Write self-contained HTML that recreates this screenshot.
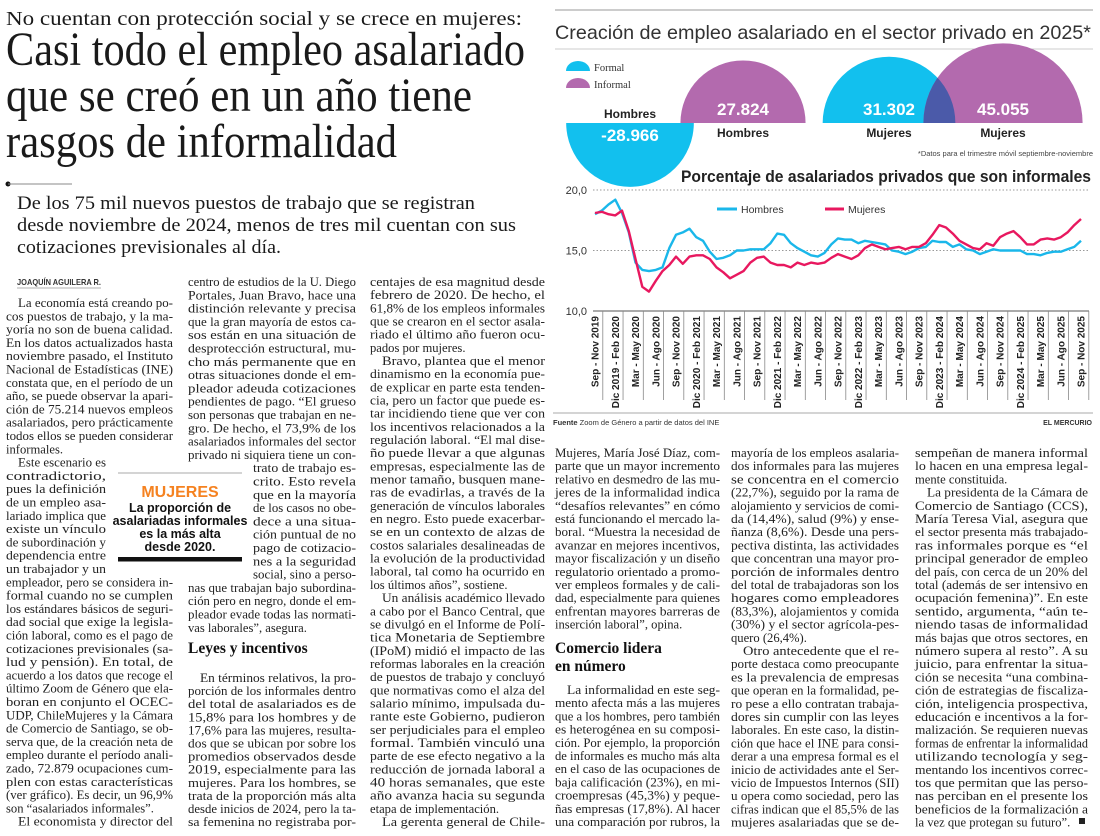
<!DOCTYPE html>
<html><head><meta charset="utf-8">
<style>
html,body{margin:0;padding:0;background:#fff;}
svg{display:block;}
.body{font-family:"Liberation Serif",serif;font-size:12.6px;fill:#222;}
.sans{font-family:"Liberation Sans Narrow","Liberation Sans",sans-serif;}
</style></head>
<body>
<svg id="page" width="1100" height="836" viewBox="0 0 1100 836" xmlns="http://www.w3.org/2000/svg">
<defs>
<clipPath id="clipMF"><ellipse cx="889" cy="123" rx="66" ry="66"/><rect x="0" y="0" width="1" height="1"/></clipPath>
</defs>
<g font-family="Liberation Serif, serif" fill="#1a1a1a">
<text x="6" y="25" font-size="20" textLength="516" lengthAdjust="spacingAndGlyphs">No cuentan con protección social y se crece en mujeres:</text>
<text x="6" y="65" font-size="48" textLength="519" lengthAdjust="spacingAndGlyphs">Casi todo el empleo asalariado</text>
<text x="6" y="111" font-size="48" textLength="466" lengthAdjust="spacingAndGlyphs">que se creó en un año tiene</text>
<text x="6" y="157" font-size="48" textLength="391" lengthAdjust="spacingAndGlyphs">rasgos de informalidad</text>
<circle cx="8" cy="184" r="2.5" fill="#111"/>
<line x1="8" y1="184" x2="72" y2="184" stroke="#888" stroke-width="1"/>
<text x="17" y="209" font-size="18.5" textLength="458" lengthAdjust="spacingAndGlyphs">De los 75 mil nuevos puestos de trabajo que se registran</text>
<text x="17" y="231" font-size="18.5" textLength="499" lengthAdjust="spacingAndGlyphs">desde noviembre de 2024, menos de tres mil cuentan con sus</text>
<text x="17" y="253" font-size="18.5" textLength="264" lengthAdjust="spacingAndGlyphs">cotizaciones previsionales al día.</text>
<text class="sans" x="17" y="285" font-size="8.5" font-weight="bold" fill="#333" textLength="84" lengthAdjust="spacingAndGlyphs">JOAQUÍN AGUILERA R.</text>
<line x1="17" y1="288" x2="101" y2="288" stroke="#999" stroke-width="0.8"/>
</g>
<g id="bodytext" class="body"></g>
<g>
<line x1="118" y1="473" x2="242" y2="473" stroke="#aaa" stroke-width="1"/>
<text class="sans" x="180" y="497" font-size="16" font-weight="bold" fill="#f58220" text-anchor="middle">MUJERES</text>
<g class="sans" font-size="12.5" font-weight="bold" fill="#111" text-anchor="middle">
<text x="180" y="512">La proporción de</text>
<text x="180" y="525">asalariadas informales</text>
<text x="180" y="538">es la más alta</text>
<text x="180" y="551">desde 2020.</text>
</g>
<rect x="118" y="557" width="124" height="4.5" fill="#111"/>
</g>
<g font-family="Liberation Serif, serif" font-weight="bold" font-size="15.5" fill="#111">
<text x="188" y="653">Leyes y incentivos</text>
<text x="555" y="653">Comercio lidera</text>
<text x="555" y="671">en número</text>
</g>
<rect x="1079" y="818" width="6" height="6" fill="#222"/>

<g id="bubbles">
<line x1="555" y1="10" x2="1093" y2="10" stroke="#999" stroke-width="1"/>
<text x="555" y="39" font-family="Liberation Sans, sans-serif" font-size="19.5" fill="#333" textLength="536" lengthAdjust="spacingAndGlyphs">Creación de empleo asalariado en el sector privado en 2025*</text>
<line x1="555" y1="49" x2="1093" y2="49" stroke="#ccc" stroke-width="1"/>
<path d="M566 71 A12 10 0 0 1 590 71 Z" fill="#12c0ee"/>
<path d="M566 88 A12 10 0 0 1 590 88 Z" fill="#b36aae"/>
<text x="594" y="71" font-family="Liberation Serif, serif" font-size="10.5" fill="#333">Formal</text>
<text x="594" y="88" font-family="Liberation Serif, serif" font-size="10.5" fill="#333">Informal</text>
<text class="sans" x="1093" y="156" font-size="7.5" fill="#444" text-anchor="end">*Datos para el trimestre móvil septiembre-noviembre</text>
</g>

<g id="linechart">
<text class="sans" x="1091" y="182" font-size="17" font-weight="bold" fill="#222" text-anchor="end" textLength="410" lengthAdjust="spacingAndGlyphs">Porcentaje de asalariados privados que son informales</text>
<line x1="717" y1="209" x2="737" y2="209" stroke="#1ab7ea" stroke-width="3"/>
<text class="sans" x="741" y="213" font-size="10.5" fill="#333">Hombres</text>
<line x1="825" y1="209" x2="844" y2="209" stroke="#e8185f" stroke-width="3"/>
<text class="sans" x="848" y="213" font-size="10.5" fill="#333">Mujeres</text>
<line x1="553" y1="413" x2="1093" y2="413" stroke="#aaa" stroke-width="1"/>
<text class="sans" x="553" y="425" font-size="7.5" fill="#333"><tspan font-weight="bold">Fuente</tspan>  Zoom de Género a partir de datos del INE</text>
<text class="sans" x="1092" y="425" font-size="7" font-weight="bold" fill="#333" text-anchor="end">EL MERCURIO</text>
</g>
</svg>
<script>
var bubbleLabels = ['Hombres', 'Hombres', 'Mujeres', 'Mujeres'];
var bubbleTypes = ['Formal', 'Informal', 'Formal', 'Informal'];
var bubbleValues = [-28966, 27824, 31302, 45055];
var quarterLabels = ['Sep - Nov 2019','Dic 2019 - Feb 2020','Mar - May 2020','Jun - Ago 2020','Sep - Nov 2020','Dic 2020 - Feb 2021','Mar - May 2021','Jun - Ago 2021','Sep - Nov 2021','Dic 2021 - Feb 2022','Mar - May 2022','Jun - Ago 2022','Sep - Nov 2022','Dic 2022 - Feb 2023','Mar - May 2023','Jun - Ago 2023','Sep - Nov 2023','Dic 2023 - Feb 2024','Mar - May 2024','Jun - Ago 2024','Sep - Nov 2024','Dic 2024 - Feb 2025','Mar - May 2025','Jun - Ago 2025','Sep - Nov 2025'];
var yTicks = [10, 15, 20];
var yTickLabels = ['10,0', '15,0', '20,0'];
var hombres = [18.0,18.3,18.8,19.2,18.1,16.5,14.0,13.4,13.3,13.4,13.6,15.2,16.3,16.5,16.8,16.1,15.8,14.9,14.3,14.4,14.6,15.0,15.0,15.1,15.1,15.1,15.6,16.4,16.3,15.6,15.2,14.9,14.6,14.5,14.8,15.5,16.0,15.9,15.9,15.6,15.8,15.7,15.6,15.5,15.0,14.9,14.7,14.9,15.2,15.3,15.8,15.7,15.7,15.3,15.5,15.1,15.0,14.7,14.9,15.1,15.0,15.0,15.0,15.0,14.7,14.7,14.6,14.8,14.9,14.9,15.1,15.3,15.8];
var mujeres = [18.1,18.2,18.0,17.9,18.3,16.6,14.3,12.0,11.6,12.5,13.3,13.8,14.5,13.9,14.5,14.6,14.6,14.3,13.6,13.2,12.7,13.0,13.3,14.0,14.4,14.5,14.0,13.8,13.8,13.6,14.0,13.8,14.0,13.9,14.0,14.4,14.7,14.5,14.3,14.6,15.2,15.5,15.3,15.1,15.2,15.3,15.1,15.3,15.3,15.6,16.3,17.1,16.9,16.4,15.8,15.5,15.2,15.1,15.6,15.4,16.1,16.4,16.6,16.1,15.5,15.5,15.9,16.0,15.9,16.1,16.5,17.1,17.6];

var col1 = ['^La economía está creando po-','cos puestos de trabajo, y la ma-','yoría no son de buena calidad.','En los datos actualizados hasta','noviembre pasado, el Instituto','Nacional de Estadísticas (INE)','constata que, en el período de un','año, se puede observar la apari-','ción de 75.214 nuevos empleos','asalariados, pero prácticamente','todos ellos se pueden considerar','informales.$'];
var col1n = ['^Este escenario es','contradictorio,','pues la definición','de un empleo asa-','lariado implica que','existe un vínculo','de subordinación y','dependencia entre','un trabajador y un'];
var col1c = ['empleador, pero se considera in-','formal cuando no se cumplen','los estándares básicos de seguri-','dad social que exige la legisla-','ción laboral, como es el pago de','cotizaciones previsionales (sa-','lud y pensión). En total, de','acuerdo a los datos que recoge el','último Zoom de Género que ela-','boran en conjunto el OCEC-','UDP, ChileMujeres y la Cámara','de Comercio de Santiago, se ob-','serva que, de la creación neta de','empleo durante el período anali-','zado, 72.879 ocupaciones cum-','plen con estas características','(ver gráfico). Es decir, un 96,9%','son “asalariados informales”.$','^El economista y director del'];
var col2a = ['centro de estudios de la U. Diego','Portales, Juan Bravo, hace una','distinción relevante y precisa','que la gran mayoría de estos ca-','sos están en una situación de','desprotección estructural, mu-','cho más permanente que en','otras situaciones donde el em-','pleador adeuda cotizaciones','pendientes de pago. “El grueso','son personas que trabajan en ne-','gro. De hecho, el 73,9% de los','asalariados informales del sector','privado ni siquiera tiene un con-'];
var col2n = ['trato de trabajo es-','crito. Esto revela','que en la mayoría','de los casos no obe-','dece a una situa-','ción puntual de no','pago de cotizacio-','nes a la seguridad','social, sino a perso-'];
var col2c = ['nas que trabajan bajo subordina-','ción pero en negro, donde el em-','pleador evade todas las normati-','vas laborales”, asegura.$'];
var col2d = ['^En términos relativos, la pro-','porción de los informales dentro','del total de asalariados es de','15,8% para los hombres y de','17,6% para las mujeres, resulta-','dos que se ubican por sobre los','promedios observados desde','2019, especialmente para las','mujeres. Para los hombres, se','trata de la proporción más alta','desde inicios de 2024, pero la ta-','sa femenina no registraba por-'];
var col3 = ['centajes de esa magnitud desde','febrero de 2020. De hecho, el','61,8% de los empleos informales','que se crearon en el sector asala-','riado el último año fueron ocu-','pados por mujeres.$','^Bravo, plantea que el menor','dinamismo en la economía pue-','de explicar en parte esta tenden-','cia, pero un factor que puede es-','tar incidiendo tiene que ver con','los incentivos relacionados a la','regulación laboral. “El mal dise-','ño puede llevar a que algunas','empresas, especialmente las de','menor tamaño, busquen mane-','ras de evadirlas, a través de la','generación de vínculos laborales','en negro. Esto puede exacerbar-','se en un contexto de alzas de','costos salariales desalineadas de','la evolución de la productividad','laboral, tal como ha ocurrido en','los últimos años”, sostiene.$','^Un análisis académico llevado','a cabo por el Banco Central, que','se divulgó en el Informe de Polí-','tica Monetaria de Septiembre','(IPoM) midió el impacto de las','reformas laborales en la creación','de puestos de trabajo y concluyó','que normativas como el alza del','salario mínimo, impulsada du-','rante este Gobierno, pudieron','ser perjudiciales para el empleo','formal. También vinculó una','parte de ese efecto negativo a la','reducción de jornada laboral a','40 horas semanales, que este','año avanza hacia su segunda','etapa de implementación.$','^La gerenta general de Chile-'];
var b1a = ['Mujeres, María José Díaz, com-','parte que un mayor incremento','relativo en desmedro de las mu-','jeres de la informalidad indica','“desafíos relevantes” en cómo','está funcionando el mercado la-','boral. “Muestra la necesidad de','avanzar en mejores incentivos,','mayor fiscalización y un diseño','regulatorio orientado a promo-','ver empleos formales y de cali-','dad, especialmente para quienes','enfrentan mayores barreras de','inserción laboral”, opina.$'];
var b1b = ['^La informalidad en este seg-','mento afecta más a las mujeres','que a los hombres, pero también','es heterogénea en su composi-','ción. Por ejemplo, la proporción','de informales es mucho más alta','en el caso de las ocupaciones de','baja calificación (23%), en mi-','croempresas (45,3%) y peque-','ñas empresas (17,8%). Al hacer','una comparación por rubros, la'];
var b2 = ['mayoría de los empleos asalaria-','dos informales para las mujeres','se concentra en el comercio','(22,7%), seguido por la rama de','alojamiento y servicios de comi-','da (14,4%), salud (9%) y ense-','ñanza (8,6%). Desde una pers-','pectiva distinta, las actividades','que concentran una mayor pro-','porción de informales dentro','del total de trabajadoras son los','hogares como empleadores','(83,3%), alojamientos y comida','(30%) y el sector agrícola-pes-','quero (26,4%).$','^Otro antecedente que el re-','porte destaca como preocupante','es la prevalencia de empresas','que operan en la formalidad, pe-','ro pese a ello contratan trabaja-','dores sin cumplir con las leyes','laborales. En este caso, la distin-','ción que hace el INE para consi-','derar a una empresa formal es el','inicio de actividades ante el Ser-','vicio de Impuestos Internos (SII)','u opera como sociedad, pero las','cifras indican que el 85,5% de las','mujeres asalariadas que se de-'];
var b3 = ['sempeñan de manera informal','lo hacen en una empresa legal-','mente constituida.$','^La presidenta de la Cámara de','Comercio de Santiago (CCS),','María Teresa Vial, asegura que','el sector presenta más trabajado-','ras informales porque es “el','principal generador de empleo','del país, con cerca de un 20% del','total (además de ser intensivo en','ocupación femenina)”. En este','sentido, argumenta, “aún te-','niendo tasas de informalidad','más bajas que otros sectores, en','número supera al resto”. A su','juicio, para enfrentar la situa-','ción se necesita “una combina-','ción de estrategias de fiscaliza-','ción, inteligencia prospectiva,','educación e incentivos a la for-','malización. Se requieren nuevas','formas de enfrentar la informalidad','utilizando tecnología y seg-','mentando los incentivos correc-','tos que permitan que las perso-','nas perciban en el presente los','beneficios de la formalización a','la vez que protegan su futuro”.$'];

var NS = 'http://www.w3.org/2000/svg';
function mk(tag, parent) { var e = document.createElementNS(NS, tag); parent.appendChild(e); return e; }

var bodyG = document.getElementById('bodytext');
function renderCol(lines, x, w, y0, lh, name) {
  for (var i = 0; i < lines.length; i++) {
    var s = lines[i], indent = 0, just = true;
    if (s.charAt(0) === '^') { s = s.slice(1); indent = 12; }
    if (s.charAt(s.length - 1) === '$') { s = s.slice(0, -1); just = false; }
    var t = mk('text', bodyG);
    
    
    t.setAttribute('x', x + indent);
    t.setAttribute('y', (y0 + i * lh).toFixed(1));
    if (just) { t.setAttribute('textLength', w - indent); t.setAttribute('lengthAdjust', 'spacingAndGlyphs'); }
    t.textContent = s;
  }
}
renderCol(col1, 6, 167, 307, 13.3, 'col1');
renderCol(col1n, 6, 100, 307 + 12 * 13.3, 13.3, 'col1');
renderCol(col1c, 6, 167, 307 + 21 * 13.3, 13.3, 'col1');
renderCol(col2a, 188, 168, 286, 13.3, 'col2');
renderCol(col2n, 253, 103, 286 + 14 * 13.3, 13.3, 'col2');
renderCol(col2c, 188, 168, 286 + 23 * 13.3, 13.3, 'col2');
renderCol(col2d, 188, 168, 682, 13.1, 'col2');
renderCol(col3, 370, 175, 286, 13.17, 'col3');
renderCol(b1a, 555, 165, 457, 13.2, 'bottom-col1');
renderCol(b1b, 555, 165, 694, 13.2, 'bottom-col1');
renderCol(b2, 731, 168, 457, 13.2, 'bottom-col2');
renderCol(b3, 915, 173, 457, 13.2, 'bottom-col3');

var bG = document.getElementById('bubbles');
var bubbleCx = [630, 743, 889, 1003];
var baseY = 123;
function rScale(v) { return 0.375 * Math.sqrt(Math.abs(v)); }
function fmt(v) { var s = Math.abs(v).toString().replace(/\B(?=(\d{3})+(?!\d))/g, '.'); return (v < 0 ? '-' : '') + s; }
var colors = { Formal: '#12c0ee', Informal: '#b36aae' };
for (var i = 0; i < bubbleValues.length; i++) {
  var r = rScale(bubbleValues[i]), cx = bubbleCx[i], up = bubbleValues[i] >= 0;
  var p = mk('path', bG);
  
  
  p.setAttribute('d', 'M' + (cx - r) + ' ' + baseY + ' A' + r + ' ' + r + ' 0 0 ' + (up ? 1 : 0) + ' ' + (cx + r) + ' ' + baseY + ' Z');
  p.setAttribute('fill', colors[bubbleTypes[i]]);
}
var rF = rScale(bubbleValues[2]), rI = rScale(bubbleValues[3]);
var cp = document.querySelector('#clipMF ellipse');
cp.setAttribute('rx', rF); cp.setAttribute('ry', rF);
var ov = mk('path', bG);


ov.setAttribute('d', 'M' + (bubbleCx[3] - rI) + ' ' + baseY + ' A' + rI + ' ' + rI + ' 0 0 1 ' + (bubbleCx[3] + rI) + ' ' + baseY + ' Z');
ov.setAttribute('fill', '#4b5aa9');
ov.setAttribute('clip-path', 'url(#clipMF)');
for (var i = 0; i < bubbleValues.length; i++) {
  var up = bubbleValues[i] >= 0, cx = bubbleCx[i];
  var v = mk('text', bG);
  
  
  v.setAttribute('x', cx); v.setAttribute('y', up ? 115 : 141);
  v.setAttribute('text-anchor', 'middle'); v.setAttribute('font-family', 'Liberation Sans, sans-serif');
  v.setAttribute('font-size', '17'); v.setAttribute('font-weight', 'bold'); v.setAttribute('fill', '#fff');
  v.textContent = fmt(bubbleValues[i]);
  var l = mk('text', bG);
  
  
  l.setAttribute('x', cx); l.setAttribute('y', up ? 137 : 118);
  l.setAttribute('text-anchor', 'middle'); l.setAttribute('class', 'sans');
  l.setAttribute('font-size', '12'); l.setAttribute('font-weight', 'bold'); l.setAttribute('fill', '#222');
  l.textContent = bubbleLabels[i];
}

var lG = document.getElementById('linechart');
var X0 = 595, X1 = 1081, PL = 593, PR = 1089;
function xScale(i) { return X0 + i * (X1 - X0) / (hombres.length - 1); }
function yScale(v) { return 311 - (v - 10) * 12.1; }
for (var k = 0; k < yTicks.length; k++) {
  var yy = yScale(yTicks[k]);
  var gl = mk('line', lG);
  
  
  gl.setAttribute('x1', PL); gl.setAttribute('x2', PR); gl.setAttribute('y1', yy); gl.setAttribute('y2', yy);
  gl.setAttribute('stroke', k === 0 ? '#555' : '#999');
  gl.setAttribute('stroke-width', '1');
  if (k > 0) gl.setAttribute('stroke-dasharray', '1.5,2');
  var tl = mk('text', lG);
  
  
  tl.setAttribute('x', 587); tl.setAttribute('y', yy + 4);
  tl.setAttribute('text-anchor', 'end'); tl.setAttribute('class', 'sans');
  tl.setAttribute('font-size', '11'); tl.setAttribute('fill', '#333');
  tl.textContent = yTickLabels[k];
}
for (var q = 0; q < quarterLabels.length; q++) {
  var qx = xScale(q * 3);
  var sep = mk('line', lG);
  
  
  sep.setAttribute('x1', qx + 7.8); sep.setAttribute('x2', qx + 7.8);
  sep.setAttribute('y1', 311); sep.setAttribute('y2', 400);
  sep.setAttribute('stroke', '#888'); sep.setAttribute('stroke-width', '0.8');
  var xl = mk('text', lG);
  
  
  xl.setAttribute('transform', 'translate(' + (qx + 3.5) + ',316) rotate(-90)');
  xl.setAttribute('text-anchor', 'end'); xl.setAttribute('class', 'sans');
  xl.setAttribute('font-size', '10'); xl.setAttribute('font-weight', 'bold'); xl.setAttribute('fill', '#222');
  xl.textContent = quarterLabels[q];
}
function drawSeries(vals, color, name) {
  var d = '';
  for (var i = 0; i < vals.length; i++) d += (i ? 'L' : 'M') + xScale(i).toFixed(1) + ' ' + yScale(vals[i]).toFixed(1);
  var p = mk('path', lG);
  
  
  p.setAttribute('d', d); p.setAttribute('fill', 'none');
  p.setAttribute('stroke', color); p.setAttribute('stroke-width', '2.4');
  p.setAttribute('stroke-linejoin', 'round');
}
drawSeries(hombres, '#1ab7ea', 'series-hombres');
drawSeries(mujeres, '#e8185f', 'series-mujeres');
</script>
</body></html>
